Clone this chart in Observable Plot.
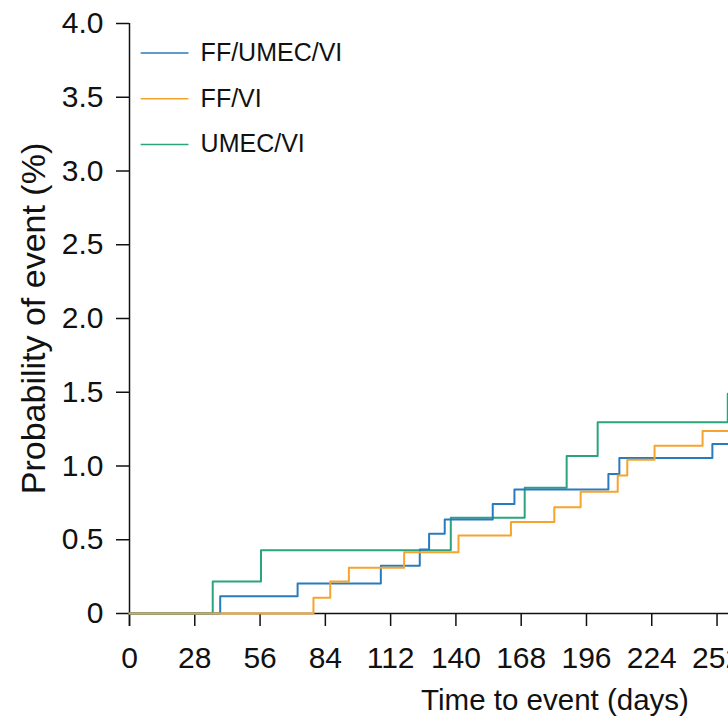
<!DOCTYPE html>
<html>
<head>
<meta charset="utf-8">
<script src="https://cdn.jsdelivr.net/npm/d3@7"></script>
<script src="https://cdn.jsdelivr.net/npm/@observablehq/plot@0.6"></script>
<style>
  html, body { margin: 0; padding: 0; overflow: hidden; background: #fff; }
</style>
</head>
<body>
<div id="chart"></div>
<script>
// Kaplan–Meier style cumulative probability of event, by treatment arm
const seriesNames = ["FF/UMEC/VI", "FF/VI", "UMEC/VI"];
const seriesColors = ["#2a7bbd", "#f6a42c", "#2aa57b"];

// Event days and cumulative probability (%) after each step
const ffUmecViDays   = [0, 38.9, 72.1, 107.8, 124.5, 128.5, 135.2, 155.8, 165.1, 205.4, 210.1, 250.0];
const ffUmecViValues = [0, 0.117, 0.203, 0.323, 0.434, 0.54, 0.637, 0.743, 0.84, 0.946, 1.055, 1.15];

const ffViDays   = [0, 78.9, 86.1, 94.1, 117.8, 141.1, 163.6, 182.2, 193.5, 209.4, 213.5, 225.2, 245.8];
const ffViValues = [0, 0.106, 0.217, 0.31, 0.415, 0.528, 0.621, 0.72, 0.826, 0.935, 1.043, 1.138, 1.238];

const umecViDays   = [0, 35.7, 56.4, 137.8, 169.5, 187.5, 200.8, 256.6];
const umecViValues = [0, 0.217, 0.429, 0.65, 0.852, 1.068, 1.296, 1.489];

// Last day of follow-up drawn for every arm
const followUpEnd = 262;

const xTicks = [0, 28, 56, 84, 112, 140, 168, 196, 224, 252, 280, 308, 336, 364];
const yTicks = [0, 0.5, 1.0, 1.5, 2.0, 2.5, 3.0, 3.5, 4.0];

function toRows(name, days, values) {
  const rows = days.map((day, i) => ({series: name, day, value: values[i]}));
  rows.push({series: name, day: followUpEnd, value: values[values.length - 1]});
  return rows;
}

const ffUmecVi = toRows(seriesNames[0], ffUmecViDays, ffUmecViValues);
const ffVi = toRows(seriesNames[1], ffViDays, ffViValues);
const umecVi = toRows(seriesNames[2], umecViDays, umecViValues);

// Legend rows laid out in data units near the top-left of the frame
const legendTop = 3.8, legendStep = 0.31;
const legendY = (d, i) => legendTop - i * legendStep;

const lineOpts = {x: "day", y: "value", stroke: "series", curve: "step-after", strokeWidth: 2};

const chart = Plot.plot({
  width: 980,
  height: 727,
  marginLeft: 129,
  marginRight: 0,
  marginTop: 23,
  marginBottom: 114,
  style: {
    fontFamily: "'Liberation Sans', Arial, Helvetica, sans-serif",
    fontSize: "30px",
    color: "#111",
    background: "#fff",
    overflow: "visible"
  },
  x: {domain: [0, 365]},
  y: {domain: [0, 4]},
  color: {domain: seriesNames, range: seriesColors},
  marks: [
    Plot.axisY({
      ticks: yTicks,
      tickFormat: d => d === 0 ? "0" : d.toFixed(1),
      tickSize: 13,
      tickPadding: 13,
      strokeWidth: 1.5,
      label: null
    }),
    Plot.axisX({
      ticks: xTicks,
      tickFormat: d => String(d),
      tickSize: 13,
      tickPadding: 20,
      strokeWidth: 1.5,
      label: null
    }),
    Plot.ruleX([0], {y1: 4, y2: 0, insetBottom: -13, strokeWidth: 1.5, stroke: "#111"}),
    Plot.ruleY([0], {strokeWidth: 1.5, stroke: "#111"}),
    Plot.line(umecVi, lineOpts),
    Plot.line(ffUmecVi, lineOpts),
    Plot.line(ffVi, lineOpts),
    Plot.ruleY(seriesNames, {y: legendY, x1: 5, x2: 25.5, stroke: d => d, strokeWidth: 1.5}),
    Plot.text(seriesNames, {
      y: legendY, x: 30.5, text: d => d,
      textAnchor: "start", lineAnchor: "middle", fontSize: 25, fill: "#111"
    }),
    Plot.text(["Probability of event (%)"], {
      text: d => d, frameAnchor: "left", rotate: -90, dx: -95,
      textAnchor: "middle", lineAnchor: "middle", fontSize: 34, fill: "#111"
    }),
    Plot.text(["Time to event (days)"], {
      text: d => d, frameAnchor: "bottom", dy: 76,
      lineAnchor: "top", fontSize: 29.5, fill: "#111"
    })
  ]
});
chart.style.maxWidth = "none";
document.getElementById("chart").appendChild(chart);
</script>
</body>
</html>
